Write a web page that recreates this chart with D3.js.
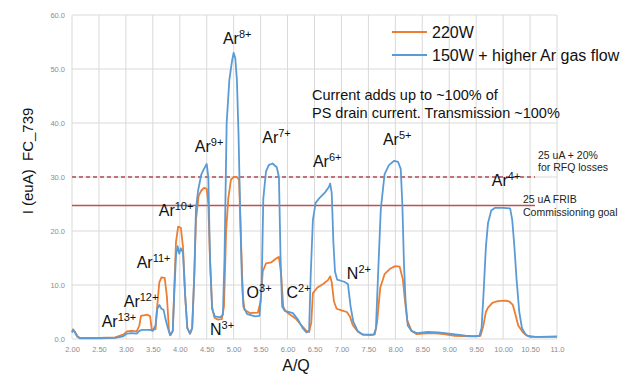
<!DOCTYPE html>
<html><head><meta charset="utf-8">
<script src="https://cdn.jsdelivr.net/npm/d3@7/dist/d3.min.js"></script>
<style>
html,body{margin:0;padding:0;background:#fff;}
svg{display:block;font-family:"Liberation Sans",Arial,sans-serif;}
</style></head>
<body>
<svg id="chart" width="633" height="374"></svg>
<script>
// ---- data ----
const xTickValues = [2,2.5,3,3.5,4,4.5,5,5.5,6,6.5,7,7.5,8,8.5,9,9.5,10,10.5,11];
const xTickLabels = ["2.00","2.50","3.00","3.50","4.00","4.50","5.00","5.50","6.00","6.50","7.00","7.50","8.00","8.50","9.00","9.50","10.00","10.50","11.0"];
const yTickValues = [0,10,20,30,40,50,60];
const yTickLabels = ["0.0","10.0","20.0","30.0","40.0","50.0","60.0"];

const seriesNames = ["220W","150W + higher Ar gas flow"];

// 220W (orange)
const aq220 = [2.00,2.02,2.05,2.10,2.15,2.50,2.80,2.95,3.02,3.10,3.20,3.25,3.28,3.40,3.45,3.48,3.55,3.58,3.62,3.66,3.72,3.76,3.80,3.83,3.87,3.90,3.93,3.97,4.02,4.06,4.10,4.14,4.19,4.23,4.27,4.30,4.35,4.40,4.45,4.50,4.53,4.56,4.60,4.64,4.70,4.78,4.82,4.86,4.90,4.95,5.00,5.06,5.10,5.13,5.17,5.20,5.30,5.45,5.50,5.54,5.60,5.70,5.80,5.84,5.88,5.92,5.96,6.05,6.15,6.25,6.35,6.40,6.44,6.47,6.55,6.66,6.75,6.79,6.82,6.86,6.91,7.00,7.10,7.16,7.21,7.30,7.40,7.55,7.62,7.66,7.72,7.80,7.90,8.00,8.08,8.14,8.18,8.22,8.30,8.40,8.50,8.70,8.90,9.10,9.40,9.58,9.63,9.68,9.72,9.80,9.90,10.05,10.12,10.18,10.23,10.28,10.37,10.45,10.60,11.00];
const i220 = [1.3,1.8,1.4,0.5,0.2,0.2,0.3,0.8,1.4,1.5,1.4,2.5,4.3,4.5,4.2,1.8,1.8,6.0,10.5,11.4,11.3,8.0,1.5,0.7,1.5,10.0,18.0,20.8,20.6,17.0,8.0,2.0,1.0,2.0,12.0,22.0,26.5,27.5,28.0,27.8,25.0,15.0,6.0,4.0,3.6,3.7,6.0,20.0,26.0,29.5,30.0,30.0,29.5,20.0,8.0,5.4,4.8,4.9,7.0,12.5,14.0,14.2,15.0,15.2,12.0,6.0,5.2,4.5,3.8,2.6,1.5,1.3,3.0,8.5,9.5,10.2,10.9,11.6,10.5,7.0,5.6,5.3,5.0,4.1,2.6,1.4,0.8,0.7,0.9,3.0,9.5,12.0,13.0,13.5,13.4,11.0,7.0,3.5,1.5,0.9,1.0,1.1,0.9,0.6,0.5,0.6,2.3,5.0,5.8,6.7,7.0,7.1,6.9,6.3,4.5,2.5,1.2,0.6,0.4,0.4];

// 150W + higher Ar gas flow (blue)
const aq150 = [2.00,2.02,2.05,2.10,2.15,2.50,2.80,2.95,3.02,3.10,3.20,3.25,3.30,3.45,3.50,3.55,3.58,3.62,3.66,3.70,3.74,3.78,3.82,3.87,3.90,3.93,3.96,3.99,4.02,4.06,4.10,4.14,4.19,4.23,4.27,4.30,4.34,4.40,4.45,4.50,4.53,4.56,4.60,4.65,4.75,4.80,4.83,4.87,4.92,4.97,5.00,5.03,5.06,5.09,5.12,5.15,5.18,5.25,5.40,5.48,5.52,5.55,5.60,5.65,5.72,5.80,5.84,5.87,5.90,5.95,6.10,6.20,6.28,6.35,6.40,6.43,6.47,6.52,6.60,6.70,6.77,6.79,6.82,6.85,6.88,6.92,7.05,7.12,7.17,7.22,7.30,7.40,7.60,7.64,7.68,7.73,7.80,7.88,7.98,8.05,8.10,8.13,8.16,8.19,8.23,8.30,8.40,8.60,8.80,9.00,9.30,9.50,9.56,9.60,9.64,9.68,9.72,9.78,9.85,10.00,10.13,10.17,10.21,10.25,10.30,10.35,10.42,10.50,10.70,11.00];
const i150 = [1.2,1.6,1.3,0.4,0.1,0.1,0.2,0.5,1.0,1.1,1.0,1.5,1.7,1.7,1.5,2.5,5.5,6.3,5.6,5.4,3.5,2.0,0.7,1.5,9.0,15.5,17.2,15.8,16.8,16.0,8.0,2.0,1.0,2.0,12.0,24.0,27.5,30.5,31.5,32.4,30.0,15.0,5.5,4.2,4.0,4.5,15.0,40.0,48.0,51.5,53.0,52.0,48.0,38.0,24.0,12.0,6.0,4.6,4.2,4.3,10.0,26.0,31.0,32.2,32.5,31.8,30.0,15.0,6.0,5.2,4.8,3.5,2.0,1.2,1.5,12.0,22.0,25.2,26.2,27.2,28.2,28.8,27.0,18.0,12.5,11.0,10.6,10.2,6.0,3.2,1.5,0.8,0.8,2.0,12.0,24.0,30.5,32.2,33.0,32.8,31.5,25.0,14.0,7.0,2.5,1.5,1.1,1.3,1.2,1.0,0.6,0.5,0.6,2.0,9.0,17.0,21.5,23.8,24.3,24.3,24.2,22.0,17.0,11.0,5.0,2.0,0.8,0.4,0.4,0.5];

const refValues = [30, 24.7];   // dashed: 25 uA + 20%, solid: 25 uA goal

const ionLabels = [
  {base:"Ar", sup:"8+", aq:4.80, v:54.6},
  {base:"Ar", sup:"9+", aq:4.28, v:34.6},
  {base:"Ar", sup:"7+", aq:5.53, v:36.3},
  {base:"Ar", sup:"6+", aq:6.47, v:31.9},
  {base:"Ar", sup:"5+", aq:7.77, v:35.9},
  {base:"Ar", sup:"4+", aq:9.79, v:28.3},
  {base:"Ar", sup:"10+", aq:3.61, v:22.8},
  {base:"Ar", sup:"11+", aq:3.20, v:13.1},
  {base:"Ar", sup:"12+", aq:2.96, v:6.0},
  {base:"Ar", sup:"13+", aq:2.55, v:2.3},
  {base:"N",  sup:"3+", aq:4.56, v:0.7},
  {base:"O",  sup:"3+", aq:5.24, v:7.6},
  {base:"C",  sup:"2+", aq:5.98, v:7.6},
  {base:"N",  sup:"2+", aq:7.10, v:11.2}
];

// ---- layout ----
const svg = d3.select("#chart");
const x = d3.scaleLinear().domain([2, 11]).range([72, 557]);
const y = d3.scaleLinear().domain([0, 60]).range([339, 15]);

const gridColor = "#d9d9d9";
const tickColor = "#8c8c8c";
const orange = "#ED7D31", blue = "#5B9BD5", red = "#C0504D";

// grid
svg.append("g").selectAll("line").data(xTickValues).join("line")
  .attr("x1", d => x(d)).attr("x2", d => x(d))
  .attr("y1", y(60)).attr("y2", y(0))
  .attr("stroke", gridColor).attr("stroke-width", 1);
svg.append("g").selectAll("line").data(yTickValues).join("line")
  .attr("x1", x(2)).attr("x2", x(11))
  .attr("y1", d => y(d)).attr("y2", d => y(d))
  .attr("stroke", gridColor).attr("stroke-width", 1);

// axes labels via d3 axes (no domain / tick lines)
const xAxis = d3.axisBottom(x).tickValues(xTickValues)
  .tickFormat((d,i) => xTickLabels[i]).tickSize(0).tickPadding(8);
const gx = svg.append("g").attr("transform", `translate(0,${y(0)})`).call(xAxis);
gx.select(".domain").remove();
gx.selectAll("text").attr("fill", tickColor).attr("font-size", 7.5)
  .attr("font-family", "Liberation Sans, Arial, sans-serif");

const yAxis = d3.axisLeft(y).tickValues(yTickValues)
  .tickFormat((d,i) => yTickLabels[i]).tickSize(0).tickPadding(7);
const gy = svg.append("g").attr("transform", `translate(${x(2)},0)`).call(yAxis);
gy.select(".domain").remove();
gy.selectAll("text").attr("fill", tickColor).attr("font-size", 7.5)
  .attr("font-family", "Liberation Sans, Arial, sans-serif");

// reference lines
svg.append("line").attr("x1", x(2)).attr("x2", 535)
  .attr("y1", y(refValues[0])).attr("y2", y(refValues[0]))
  .attr("stroke", "#B04A52").attr("stroke-width", 1.3).attr("stroke-dasharray", "4,3");
svg.append("line").attr("x1", x(2)).attr("x2", 535)
  .attr("y1", y(refValues[1])).attr("y2", y(refValues[1]))
  .attr("stroke", red).attr("stroke-width", 1.5);

// series
const line = d3.line().x(d => x(d[0])).y(d => y(d[1]));
const data220 = aq220.map((a,i) => [a, i220[i]]);
const data150 = aq150.map((a,i) => [a, i150[i]]);
svg.append("path").datum(data220).attr("d", line)
  .attr("fill", "none").attr("stroke", orange).attr("stroke-width", 1.8).attr("stroke-linejoin","round");
svg.append("path").datum(data150).attr("d", line)
  .attr("fill", "none").attr("stroke", blue).attr("stroke-width", 1.8).attr("stroke-linejoin","round");

// ion labels
const lbl = svg.append("g").attr("font-size", 16).attr("fill", "#111");
ionLabels.forEach(d => {
  const t = lbl.append("text").attr("x", x(d.aq)).attr("y", y(d.v));
  t.append("tspan").text(d.base);
  t.append("tspan").attr("font-size", 11).attr("dy", -6).text(d.sup);
});

// legend
const legend = [{c: orange, n: seriesNames[0], yy: 32}, {c: blue, n: seriesNames[1], yy: 55}];
legend.forEach(l => {
  svg.append("line").attr("x1", 392).attr("x2", 427).attr("y1", l.yy).attr("y2", l.yy)
    .attr("stroke", l.c).attr("stroke-width", 2);
  svg.append("text").attr("x", 432).attr("y", l.yy + 6).attr("font-size", 16)
    .attr("fill", "#111").text(l.n);
});

// annotations
svg.append("text").attr("x", 312).attr("y", 100).attr("font-size", 14.5).attr("fill", "#111")
  .text("Current adds up to ~100% of");
svg.append("text").attr("x", 312).attr("y", 118).attr("font-size", 14.5).attr("fill", "#111")
  .text("PS drain current. Transmission ~100%");

svg.append("text").attr("x", 538).attr("y", 158.5).attr("font-size", 10.5).attr("fill", "#222").text("25 uA + 20%");
svg.append("text").attr("x", 538).attr("y", 171).attr("font-size", 10.5).attr("fill", "#222").text("for RFQ losses");
svg.append("text").attr("x", 523).attr("y", 203).attr("font-size", 10.5).attr("fill", "#222").text("25 uA FRIB");
svg.append("text").attr("x", 523).attr("y", 215.5).attr("font-size", 10.5).attr("fill", "#222").text("Commissioning goal");

// axis titles
svg.append("text").attr("transform", "translate(33,161) rotate(-90)")
  .attr("text-anchor", "middle").attr("font-size", 15).attr("fill", "#111")
  .style("white-space", "pre").text("I (euA)  FC_739");
svg.append("text").attr("x", 296).attr("y", 371).attr("text-anchor", "middle")
  .attr("font-size", 16).attr("fill", "#111").text("A/Q");
</script>
</body></html>
